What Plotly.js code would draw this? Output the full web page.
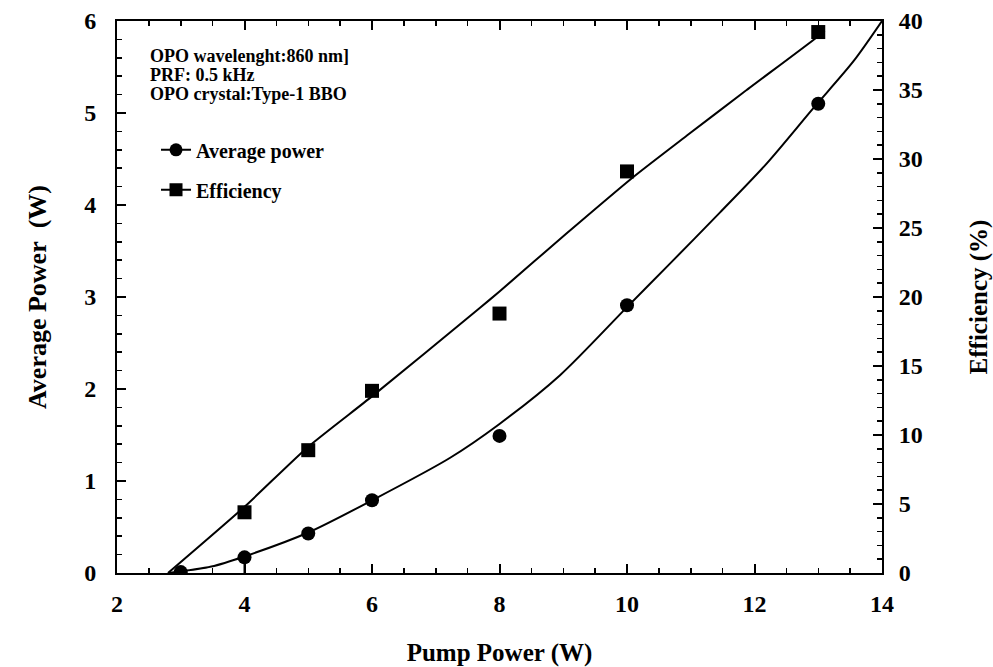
<!DOCTYPE html>
<html>
<head>
<meta charset="utf-8">
<script src="https://cdn.plot.ly/plotly-3.0.1.min.js"></script>
<style>html,body{margin:0;padding:0;background:#fff;}#chart{width:993px;height:667px;}</style>
</head>
<body>
<div id="chart"></div>
<script>
// Measured data
const pump = [3, 4, 5, 6, 8, 10, 13];
const avgPower = [0.01, 0.17, 0.43, 0.79, 1.49, 2.91, 5.10];
const avgPowerErrMinus = [0, 0.17, 0, 0, 0, 0, 0];
const efficiency = [null, 4.4, 8.9, 13.2, 18.8, 29.1, 39.2];

// Fitted curves
const powerFitX = [2.8, 3.48, 4.0, 5.0, 6.0, 7.22, 8.0, 8.95, 10.0, 10.67, 11.46, 12.19, 12.92, 13.55, 14.0];
const powerFitY = [0, 0.07, 0.18, 0.44, 0.79, 1.25, 1.62, 2.15, 2.89, 3.36, 3.92, 4.45, 5.05, 5.56, 6.0];
const effFitX = [2.8, 4.0, 5.0, 6.0, 7.69, 8.0, 9.05, 10.1, 10.94, 11.82, 13.0, 13.1];
const effFitY = [0, 4.8, 9.15, 12.8, 19.2, 20.4, 24.6, 28.7, 31.7, 34.8, 38.9, 39.3];

const infoLines = ["OPO wavelenght:860 nm]", "PRF: 0.5 kHz", "OPO crystal:Type-1 BBO"];
const seriesNames = ["Average power", "Efficiency"];

const FONT = "Liberation Serif, Times New Roman, serif";
const font = (s) => ({family: FONT, size: s, color: "#000", weight: "bold"});

const traces = [
  {x: powerFitX, y: powerFitY, mode: "lines", line: {color: "#000", width: 2, shape: "spline", smoothing: 0.8}, showlegend: false, hoverinfo: "skip"},
  {x: effFitX, y: effFitY, yaxis: "y2", mode: "lines", line: {color: "#000", width: 2, shape: "spline", smoothing: 0.6}, showlegend: false, hoverinfo: "skip"},
  {x: pump, y: avgPower, mode: "markers", marker: {symbol: "circle", size: 14, color: "#000"},
   error_y: {type: "data", symmetric: false, array: pump.map(() => 0), arrayminus: avgPowerErrMinus, width: 0, thickness: 2, color: "#000"},
   showlegend: false},
  {x: pump, y: efficiency, yaxis: "y2", mode: "markers", marker: {symbol: "square", size: 14, color: "#000"}, showlegend: false},
  {x: [null], y: [null], mode: "lines+markers", name: seriesNames[0], legendgroup: "a",
   line: {color: "#000", width: 2}, marker: {symbol: "circle", size: 13, color: "#000"}},
  {x: [null], y: [null], mode: "lines+markers", name: seriesNames[1], legendgroup: "b",
   line: {color: "#000", width: 2}, marker: {symbol: "square", size: 13, color: "#000"}}
];

const infoY = [0.937, 0.902, 0.867];

const layout = {
  width: 993, height: 667,
  margin: {l: 117, r: 111, t: 21, b: 94},
  paper_bgcolor: "#fff", plot_bgcolor: "#fff",
  font: font(24),
  showlegend: true,
  legend: {x: 0.051, y: 0.802, xanchor: "left", yanchor: "top", bgcolor: "rgba(0,0,0,0)",
           font: font(20), tracegroupgap: 11, traceorder: "grouped"},
  xaxis: {
    range: [2, 14], dtick: 2, tick0: 2,
    ticks: "inside", ticklen: 9, tickwidth: 2, tickcolor: "#000",
    showline: true, linewidth: 2, linecolor: "#000", mirror: "ticks",
    showgrid: false, zeroline: false, ticklabelstandoff: 8,
    minor: {dtick: 0.5, ticks: "inside", ticklen: 5, tickwidth: 1.5, tickcolor: "#000", showgrid: false},
    tickfont: font(24),
    title: {text: "Pump Power (W)", font: font(25), standoff: 31}
  },
  yaxis: {
    range: [0, 6], dtick: 1,
    ticks: "inside", ticklen: 9, tickwidth: 2, tickcolor: "#000",
    showline: true, linewidth: 2, linecolor: "#000",
    showgrid: false, zeroline: false, ticklabelstandoff: 14,
    minor: {dtick: 0.2, ticks: "inside", ticklen: 5, tickwidth: 1.5, tickcolor: "#000", showgrid: false},
    tickfont: font(24),
    title: {text: "Average Power\u00a0\u00a0(W)", font: font(26), standoff: 30}
  },
  yaxis2: {
    range: [0, 40], dtick: 5, overlaying: "y", side: "right",
    ticks: "inside", ticklen: 9, tickwidth: 2, tickcolor: "#000",
    showline: true, linewidth: 2, linecolor: "#000",
    showgrid: false, zeroline: false, ticklabelstandoff: 10,
    minor: {dtick: 1, ticks: "inside", ticklen: 5, tickwidth: 1.5, tickcolor: "#000", showgrid: false},
    tickfont: font(24),
    title: {text: "Efficiency (%)", font: font(25), standoff: 50}
  },
  annotations: infoLines.map((t, i) => ({
    xref: "paper", yref: "paper", x: 0.04, y: infoY[i], xanchor: "left", yanchor: "middle",
    align: "left", showarrow: false, font: font(18), text: t
  }))
};

Plotly.newPlot("chart", traces, layout, {displayModeBar: false, staticPlot: true});
</script>
</body>
</html>
